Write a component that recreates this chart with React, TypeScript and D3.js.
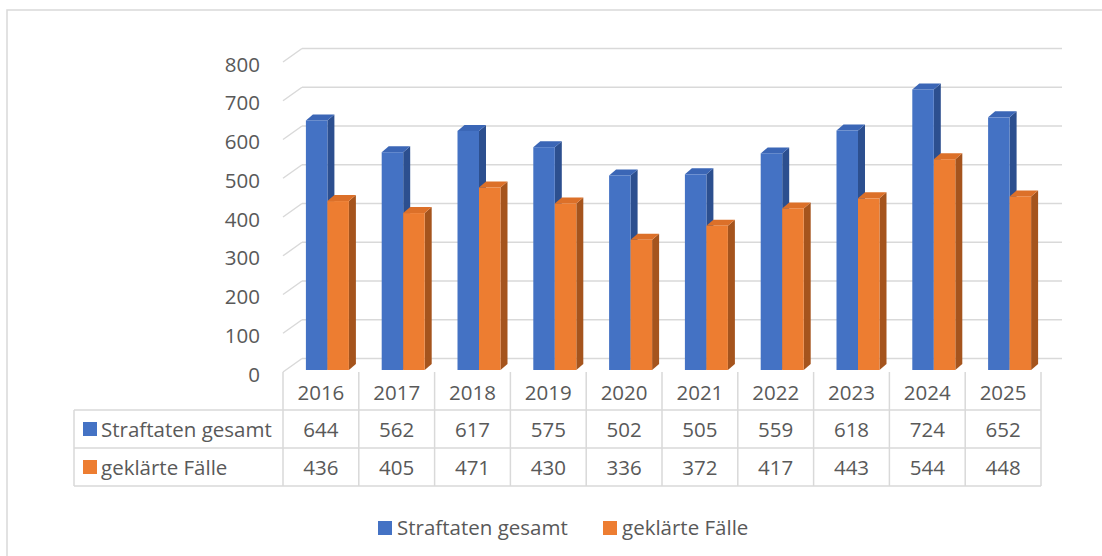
import React from "react";
import * as d3 from "d3";

const years = ["2016", "2017", "2018", "2019", "2020", "2021", "2022", "2023", "2024", "2025"];
const seriesNames = ["Straftaten gesamt", "geklärte Fälle"];
const straftaten = [644, 562, 617, 575, 502, 505, 559, 618, 724, 652];
const geklaert = [436, 405, 471, 430, 336, 372, 417, 443, 544, 448];
const yTicks = [0, 100, 200, 300, 400, 500, 600, 700, 800];

const seriesValues = [straftaten, geklaert];
const colors = [
  { front: "#4472c4", top: "#3b66b6", side: "#2c4f8f" },
  { front: "#ed7d31", top: "#dc7029", side: "#a5541d" },
];

const W = 1102;
const H = 556;
const FONT = "'Open Sans', Lato, sans-serif";
const TEXT = "#595959";
const GRID = "#d9d9d9";

// layout constants
const tableLeft = 74;
const plotLeft = 283;
const plotRight = 1041;
const wallDX = 19;
const wallDY = 13.5;
const headerTop = 372;
const rowYs = [410, 448, 486];
const barDX = 7;
const barDY = 6;
const fs = 20.5;

export default function App() {
  const y = d3.scaleLinear().domain([0, 800]).range([372, 62]);
  const x = d3.scaleBand().domain(years).range([plotLeft, plotRight]);
  const inner = d3.scaleBand().domain(seriesNames).range([0, 43]);
  const barShiftX = 6.5;
  const barShiftY = -2;

  const bars: React.ReactNode[] = [];
  years.forEach((yr, i) => {
    seriesNames.forEach((s, si) => {
      const v = seriesValues[si][i];
      const c = colors[si];
      const cx = (x(yr) as number) + x.bandwidth() / 2 + barShiftX - 21.5;
      const x0 = cx + (inner(s) as number);
      const x1 = x0 + inner.bandwidth();
      const yb = y(0) + barShiftY;
      const yt = y(v) + barShiftY;
      bars.push(
        <g key={yr + s}>
          <polygon
            points={`${x1},${yt} ${x1 + barDX},${yt - barDY} ${x1 + barDX},${yb - barDY} ${x1},${yb}`}
            fill={c.side}
          />
          <polygon
            points={`${x0},${yt} ${x0 + barDX},${yt - barDY} ${x1 + barDX},${yt - barDY} ${x1},${yt}`}
            fill={c.top}
          />
          <rect x={x0} y={yt} width={x1 - x0} height={yb - yt} fill={c.front} />
        </g>
      );
    });
  });

  const colEdges = d3.range(years.length + 1).map((i) => plotLeft + i * x.step());

  return (
    <svg
      width={W}
      height={H}
      style={{ position: "absolute", left: 0, top: 0, background: "#fff" }}
      fontFamily={FONT}
    >
      <rect x={7} y={10} width={W + 20} height={H + 20} fill="#fff" stroke={GRID} strokeWidth={1.5} />

      {/* wall gridlines */}
      {yTicks.map((t) => (
        <g key={t}>
          <line x1={plotLeft} y1={y(t)} x2={plotLeft + wallDX} y2={y(t) - wallDY} stroke={GRID} strokeWidth={1.5} />
          <line x1={plotLeft + wallDX} y1={y(t) - wallDY} x2={plotRight + 21} y2={y(t) - wallDY} stroke={GRID} strokeWidth={1.5} />
          <text x={260} y={y(t) + 1.5} textAnchor="end" dominantBaseline="central" fontSize={fs} fill={TEXT}>
            {t}
          </text>
        </g>
      ))}

      {bars}

      {/* table */}
      {colEdges.map((cx, i) => (
        <line key={"v" + i} x1={cx} y1={headerTop} x2={cx} y2={rowYs[2]} stroke={GRID} strokeWidth={1.5} />
      ))}
      <line x1={tableLeft} y1={rowYs[0]} x2={tableLeft} y2={rowYs[2]} stroke={GRID} strokeWidth={1.5} />
      {rowYs.map((ry, i) => (
        <line key={"h" + i} x1={tableLeft} y1={ry} x2={plotRight} y2={ry} stroke={GRID} strokeWidth={1.5} />
      ))}
      {years.map((yr) => (
        <text
          key={"yr" + yr}
          x={(x(yr) as number) + x.bandwidth() / 2}
          y={(headerTop + rowYs[0]) / 2 + 1}
          textAnchor="middle"
          dominantBaseline="central"
          fontSize={fs}
          fill={TEXT}
        >
          {yr}
        </text>
      ))}
      {seriesNames.map((s, si) => {
        const cy = (rowYs[si] + rowYs[si + 1]) / 2;
        return (
          <g key={"row" + s}>
            <rect x={83} y={cy - 7} width={14} height={14} fill={colors[si].front} />
            <text x={101} y={cy} dominantBaseline="central" fontSize={fs} fill={TEXT}>
              {s}
            </text>
            {years.map((yr, i) => (
              <text
                key={yr}
                x={(x(yr) as number) + x.bandwidth() / 2}
                y={cy}
                textAnchor="middle"
                dominantBaseline="central"
                fontSize={fs}
                fill={TEXT}
              >
                {seriesValues[si][i]}
              </text>
            ))}
          </g>
        );
      })}

      {/* legend */}
      {seriesNames.map((s, si) => {
        const lx = si === 0 ? 378 : 603;
        return (
          <g key={"lg" + s}>
            <rect x={lx} y={521} width={14} height={14} fill={colors[si].front} />
            <text x={lx + 19} y={527} dominantBaseline="central" fontSize={fs} fill={TEXT}>
              {s}
            </text>
          </g>
        );
      })}
    </svg>
  );
}
